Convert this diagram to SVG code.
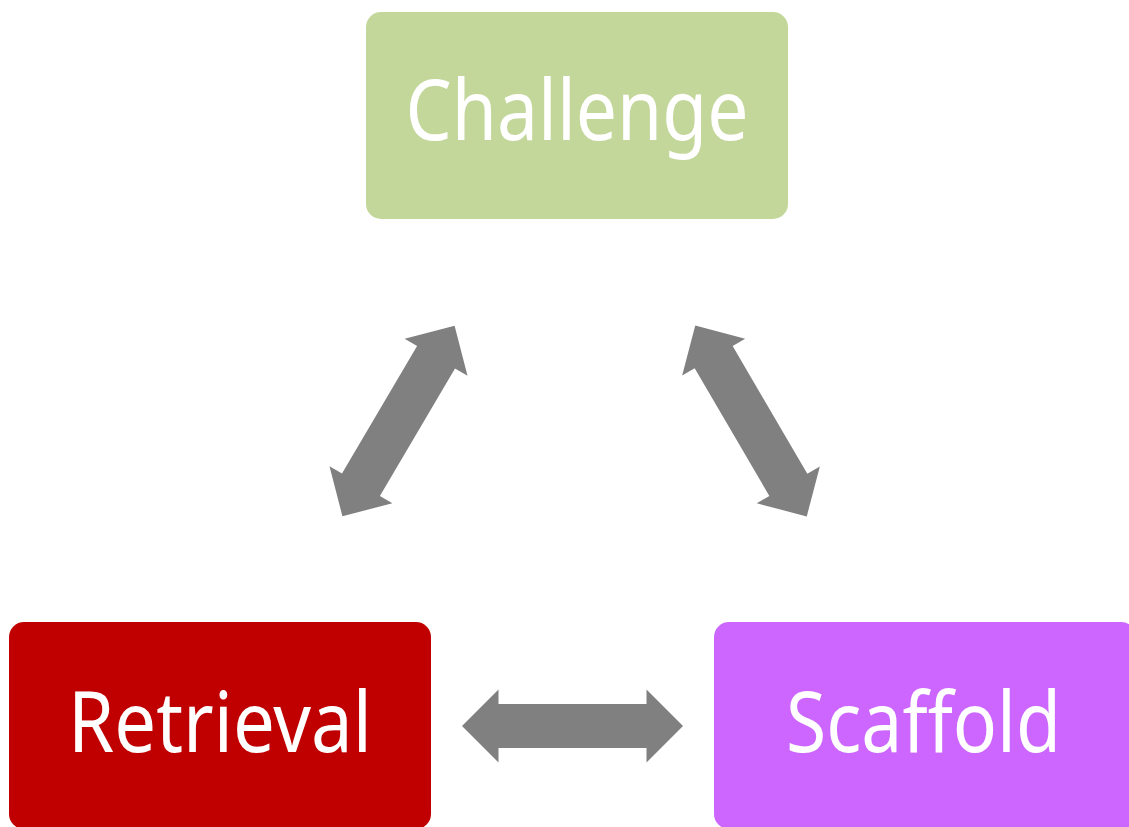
<svg xmlns="http://www.w3.org/2000/svg" width="1129" height="827" viewBox="0 0 1129 827">
  <style>
    .lbl { font-family: "Noto Sans", "Open Sans", "Liberation Sans", sans-serif; font-size: 84px; fill: #FFFFFF; text-anchor: middle; }
    .arrow { fill: #808080; }
  </style>
  <defs>
    <path id="dblArrow" d="M -110.5 0 L -74 -36.5 L -74 -22 L 74 -22 L 74 -36.5 L 110.5 0 L 74 36.5 L 74 22 L -74 22 L -74 36.5 Z"/>
  </defs>
  <rect width="1129" height="827" fill="#FFFFFF"/>
  <g id="challenge">
    <rect x="366" y="12" width="422" height="207" rx="15" ry="15" fill="#C4D79B"/>
    <text class="lbl" x="577" y="140" textLength="343" lengthAdjust="spacingAndGlyphs">Challenge</text>
  </g>
  <g id="retrieval">
    <rect x="9" y="622" width="422" height="207" rx="15" ry="15" fill="#C00000"/>
    <text class="lbl" x="220" y="752" textLength="304" lengthAdjust="spacingAndGlyphs">Retrieval</text>
  </g>
  <g id="scaffold">
    <rect x="714" y="622" width="422" height="207" rx="15" ry="15" fill="#CC66FF"/>
    <text class="lbl" x="923.5" y="752" textLength="275" lengthAdjust="spacingAndGlyphs">Scaffold</text>
  </g>
  <g id="connectors" class="arrow">
    <use href="#dblArrow" transform="translate(398.5 421) rotate(-59.5)"/>
    <use href="#dblArrow" transform="translate(751 421) rotate(59.7)"/>
    <use href="#dblArrow" transform="translate(572.5 726)"/>
  </g>
</svg>
